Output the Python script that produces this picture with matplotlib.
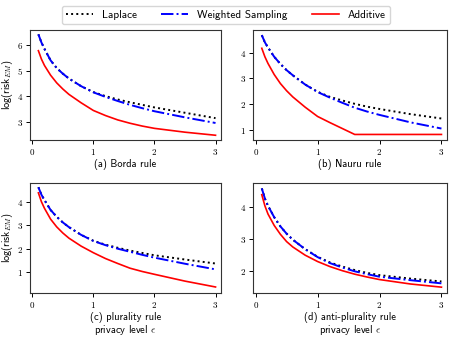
import matplotlib
matplotlib.use('agg')
import matplotlib.pyplot as plt
import matplotlib.ticker as tick

plt.rcParams['font.family'] = ['cmss10', 'DejaVu Sans']
plt.rcParams['mathtext.fontset'] = 'cm'
plt.rcParams['axes.unicode_minus'] = False

# privacy level epsilon (x values)
eps = [0.1, 0.15, 0.2, 0.3, 0.4, 0.5, 0.6, 0.8, 1.0, 1.2, 1.4, 1.6, 1.8, 2.0, 2.5, 3.0]

# (a) Borda rule
borda_laplace = [6.42, 6.10, 5.85, 5.40, 5.10, 4.88, 4.69, 4.39, 4.16, 4.00, 3.87, 3.76, 3.66, 3.56, 3.35, 3.14]
borda_weighted = [6.42, 6.10, 5.85, 5.40, 5.10, 4.88, 4.69, 4.39, 4.15, 3.97, 3.81, 3.66, 3.53, 3.41, 3.17, 2.95]
borda_additive = [5.78, 5.45, 5.20, 4.82, 4.52, 4.28, 4.07, 3.74, 3.44, 3.24, 3.07, 2.94, 2.83, 2.74, 2.59, 2.47]

# (b) Nauru rule
nauru_laplace = [4.68, 4.40, 4.20, 3.84, 3.56, 3.32, 3.12, 2.76, 2.48, 2.28, 2.14, 2.01, 1.90, 1.81, 1.61, 1.44]
nauru_weighted = [4.68, 4.40, 4.20, 3.84, 3.56, 3.32, 3.12, 2.76, 2.47, 2.25, 2.05, 1.86, 1.71, 1.58, 1.29, 1.05]
nauru_additive = [4.17, 3.84, 3.58, 3.15, 2.80, 2.52, 2.28, 1.88, 1.52, 1.28, 1.05, 0.82, 0.82, 0.82, 0.82, 0.82]

# (c) plurality rule
plur_laplace = [4.62, 4.30, 4.07, 3.65, 3.36, 3.12, 2.92, 2.59, 2.34, 2.17, 2.04, 1.92, 1.82, 1.72, 1.54, 1.37]
plur_weighted = [4.62, 4.30, 4.07, 3.65, 3.36, 3.12, 2.92, 2.59, 2.33, 2.15, 2.00, 1.87, 1.74, 1.62, 1.36, 1.12]
plur_additive = [4.38, 4.00, 3.72, 3.26, 2.93, 2.67, 2.45, 2.11, 1.83, 1.58, 1.37, 1.17, 1.03, 0.91, 0.62, 0.37]

# (d) anti-plurality rule
anti_laplace = [4.60, 4.28, 4.05, 3.69, 3.40, 3.17, 2.98, 2.68, 2.44, 2.26, 2.13, 2.02, 1.93, 1.86, 1.75, 1.66]
anti_weighted = [4.60, 4.28, 4.05, 3.69, 3.40, 3.17, 2.98, 2.68, 2.43, 2.24, 2.10, 1.98, 1.89, 1.81, 1.70, 1.60]
anti_additive = [4.40, 4.05, 3.79, 3.43, 3.15, 2.92, 2.75, 2.49, 2.29, 2.13, 2.00, 1.89, 1.80, 1.72, 1.58, 1.48]

panels = [
    ('(a) Borda rule', borda_laplace, borda_weighted, borda_additive, (2.29, 6.59)),
    ('(b) Nauru rule', nauru_laplace, nauru_weighted, nauru_additive, (0.61, 4.88)),
    ('(c) plurality rule\nprivacy level $\\epsilon$', plur_laplace, plur_weighted, plur_additive, (0.12, 4.80)),
    ('(d) anti-plurality rule\nprivacy level $\\epsilon$', anti_laplace, anti_weighted, anti_additive, (1.30, 4.77)),
]
positions = [
    [0.066, 0.585, 0.423, 0.326],
    [0.560, 0.585, 0.429, 0.326],
    [0.066, 0.131, 0.423, 0.326],
    [0.560, 0.131, 0.429, 0.326],
]

fig = plt.figure(figsize=(4.52, 3.37), dpi=100)

for i in range(len(panels)):
    title, lap, ws, add, ylims = panels[i]
    ax = fig.add_axes(positions[i])
    ax.plot(eps, lap, color='black', linestyle=':', lw=1.4, label='Laplace')
    ax.plot(eps, ws, color='blue', linestyle='-.', lw=1.4, label='Weighted Sampling')
    ax.plot(eps, add, color='red', linestyle='-', lw=1.2, label='Additive')
    ax.set_xlim(-0.04, 3.09)
    ax.set_ylim(ylims)
    ax.xaxis.set_major_locator(tick.MultipleLocator(1))
    ax.yaxis.set_major_locator(tick.MultipleLocator(1))
    ax.xaxis.set_major_formatter(tick.FormatStrFormatter('$%d$'))
    ax.yaxis.set_major_formatter(tick.FormatStrFormatter('$%d$'))
    ax.tick_params(labelsize=6.5, length=3, width=0.7, pad=2)
    for sp in ax.spines.values():
        sp.set_linewidth(0.8)
        sp.set_color('#333333')
    ax.set_xlabel(title, fontsize=7.5, linespacing=1.0)
    ax.xaxis.set_label_coords(0.5, -0.175)
    if i % 2 == 0:
        ax.set_ylabel('log(risk$_{EM}$)', fontsize=7.5)
        ax.yaxis.set_label_coords(-0.078, 0.5)
    if i == 0:
        handles, labels = ax.get_legend_handles_labels()

fig.legend(handles, labels, loc='upper center', bbox_to_anchor=(0.5, 1.0), ncol=3,
           fontsize=8, frameon=True, handlelength=2.4, columnspacing=2.2,
           borderpad=0.4, handletextpad=0.8, fancybox=True, edgecolor='#cccccc')

fig.savefig('out.png', dpi=100)
